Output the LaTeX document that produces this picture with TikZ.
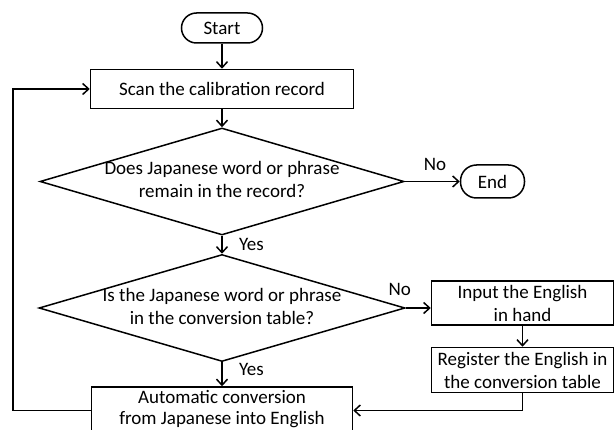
\documentclass[tikz,border=0pt]{standalone}
\usepackage{fontspec}
\setmainfont{Carlito}
\usetikzlibrary{arrows.meta,positioning,shapes.geometric}

% keep diamond text from widening the shape
\newcommand{\dtext}[1]{\makebox[0pt]{\begin{tabular}{@{}c@{}}#1\end{tabular}}}

\begin{document}
\begin{tikzpicture}[
    x=1pt, y=1pt,
    node distance=20pt and 24pt,
    font=\fontsize{19}{23}\selectfont,
    box/.style={draw, align=center, inner sep=2pt, line width=1.5pt},
    term/.style={draw, rounded corners=15pt, inner sep=2pt, line width=1.5pt},
    decision/.style={draw, diamond, minimum width=364pt, minimum height=107pt, inner sep=0pt, line width=1.5pt},
    arr/.style={-{Straight Barb[length=6pt,width=11pt]}, line width=1.5pt}
  ]
    \useasboundingbox (0,0) rectangle (614,-430);
    \clip (0,0) rectangle (614,-430);

    \node[term, minimum width=81pt, minimum height=30pt] (start) at (222,-28) {Start};
    \node[box, minimum width=263pt, minimum height=39pt, below=25pt of start] (scan) {Scan the calibration record};
    \node[decision, below=18pt of scan] (remain) {\dtext{Does Japanese word or phrase\\remain in the record?}};
    \node[term, rounded corners=16pt, minimum width=64pt, minimum height=33pt, right=55pt of remain] (end) {End};
    \node[decision, minimum width=366pt, below=18pt of remain] (intable) {\dtext{Is the Japanese word or phrase\\in the conversion table?}};
    \node[box, minimum width=261pt, minimum height=47pt, text depth=6pt, font=\fontsize{19}{21}\selectfont, below=24pt of intable] (conv) {Automatic conversion\\from Japanese into English};
    \node[box, minimum width=182pt, minimum height=44pt, right=25pt of intable, yshift=5pt] (input) {Input the English\\in hand};
    \node[box, minimum width=182pt, minimum height=45pt, below=21pt of input] (register) {Register the English in\\the conversion table};

    \draw[arr] (start) -- (scan);
    \draw[arr] (scan) -- (remain);
    \draw[arr] (remain) -- node[above=7pt, pos=0.55]{No} (end);
    \draw[arr] (remain) -- node[right=13pt]{Yes} (intable);
    \draw[arr] (intable.east) -- node[above=8pt, pos=0, xshift=-6pt]{No} (intable.east -| input.west);
    \draw[arr] (intable) -- node[right=13pt, pos=0.3]{Yes} (conv);
    \draw[arr] (input) -- (register);
    \draw[arr] (register.south) |- (conv.east);
    \draw[arr] (conv.west) -- ++(-78pt,0) |- (scan.west);
  \end{tikzpicture}
\end{document}
